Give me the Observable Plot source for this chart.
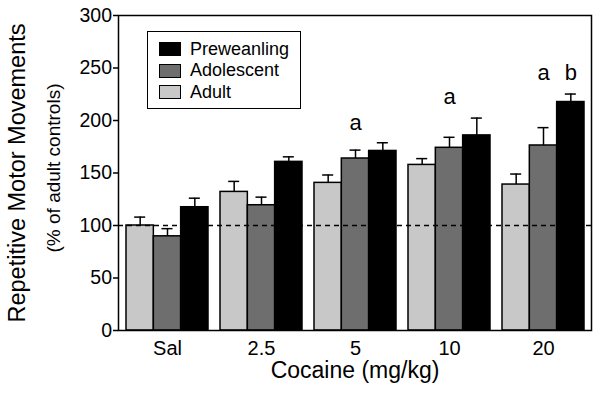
<!DOCTYPE html>
<html>
<head>
<meta charset="utf-8">
<script src="https://cdn.jsdelivr.net/npm/d3@7"></script>
<script src="https://cdn.jsdelivr.net/npm/@observablehq/plot@0.6"></script>
<style>
  html, body { margin: 0; padding: 0; background: #fff; }
  #wrap { position: relative; width: 600px; height: 402px; font-family: "Liberation Sans", Arial, sans-serif; }
  #legend { position: absolute; left: 147px; top: 31px; width: 152px; height: 76px; border: 1.5px solid #000; background: #fff; box-sizing: content-box; }
  .row { position: absolute; left: 11px; height: 16px; display: flex; align-items: center; font-size: 18px; color: #000; white-space: nowrap; }
  .sw { width: 20px; height: 12px; border: 1.5px solid #000; margin-right: 9px; }
</style>
</head>
<body>
<div id="wrap"></div>
<script>
const doses = ["Sal", "2.5", "5", "10", "20"];
const ages = ["Adult", "Adolescent", "Preweanling"];
const colors = ["#c8c8c8", "#6e6e6e", "#000000"];
const adult       = [100, 132, 140.6, 157.7, 139];
const adultErr    = [8, 10, 7.5, 6, 10];
const adolescent  = [89.7, 119.3, 163.8, 174, 176.2];
const adolescentErr = [7.3, 7.7, 8, 10, 17];
const preweanling = [117.4, 160.6, 171, 185.8, 217.6];
const preweanlingErr = [8.6, 4.8, 7.8, 16.5, 7.6];
const letters = [
  {dose: "5", age: "Adolescent", label: "a", y: 190.8},
  {dose: "10", age: "Adolescent", label: "a", y: 215.6},
  {dose: "20", age: "Adolescent", label: "a", y: 238.5},
  {dose: "20", age: "Preweanling", label: "b", y: 238.5}
];

const series = [adult, adolescent, preweanling];
const errs = [adultErr, adolescentErr, preweanlingErr];
const rows = [];
ages.forEach((a, k) => doses.forEach((d, i) => rows.push({dose: d, age: a, k, value: series[k][i], top: series[k][i] + errs[k][i]})));

const W = 600, H = 402, mL = 118, mR = 9, mT = 15, mB = 72;
const pIn = 0.13, pOut = 0.075;
const step = (W - mL - mR) / (doses.length - pIn + 2 * pOut);
const bw = step * (1 - pIn);
const third = bw / 3;
const font = "Liberation Sans, Arial, sans-serif";

const marks = [];
ages.forEach((a, k) => {
  const data = rows.filter(r => r.age === a);
  marks.push(Plot.barY(data, {x: "dose", y: "value", fill: colors[k], stroke: "#000", strokeWidth: 1.5,
    insetLeft: k * third, insetRight: (2 - k) * third}));
  marks.push(Plot.ruleX(data, {x: "dose", y1: "value", y2: "top", dx: (k - 1) * third, stroke: "#000", strokeWidth: 1.5}));
  marks.push(Plot.tickY(data, {x: "dose", y: "top", stroke: "#000", strokeWidth: 1.5,
    insetLeft: k * third + third / 2 - 5.5, insetRight: (2 - k) * third + third / 2 - 5.5}));
  marks.push(Plot.text(letters.filter(l => l.age === a), {x: "dose", y: "y", text: "label", dx: (k - 1) * third,
    fontSize: 22, textAnchor: "middle", lineAnchor: "bottom", fill: "#000"}));
});

const plot = Plot.plot({
  width: W, height: H,
  marginLeft: mL, marginRight: mR, marginTop: mT, marginBottom: mB,
  style: {fontFamily: font, fontSize: "19px", color: "#000", background: "#fff", overflow: "visible"},
  x: {domain: doses, paddingInner: pIn, paddingOuter: pOut, label: null},
  y: {domain: [0, 300], label: null},
  marks: [
    ...marks,
    Plot.ruleY([100], {stroke: "#000", strokeWidth: 1.5, strokeDasharray: "5,4"}),
    Plot.frame({stroke: "#000", strokeWidth: 1.5}),
    Plot.axisY({ticks: [0, 50, 100, 150, 200, 250, 300], tickSize: 5, tickPadding: 1.5, strokeWidth: 1.5, label: null, fontSize: 19.5}),
    Plot.axisX({tickSize: 0, tickPadding: 10, label: null, fontSize: 20}),
    Plot.text(["Repetitive Motor Movements"], {frameAnchor: "left", rotate: -90, dx: -101, fontSize: 23.5, textAnchor: "middle", lineAnchor: "middle"}),
    Plot.text(["(% of adult controls)"], {frameAnchor: "left", rotate: -90, dx: -65, dy: -5, fontSize: 19, textAnchor: "middle", lineAnchor: "middle"}),
    Plot.text(["Cocaine (mg/kg)"], {frameAnchor: "bottom", dy: 40, fontSize: 23, textAnchor: "middle", lineAnchor: "middle"})
  ]
});

const wrap = document.getElementById("wrap");
wrap.appendChild(plot);

const legend = document.createElement("div");
legend.id = "legend";
const legendOrder = [2, 1, 0];
legendOrder.forEach((k, j) => {
  const row = document.createElement("div");
  row.className = "row";
  row.style.top = (9 + j * 21.7) + "px";
  const sw = document.createElement("div");
  sw.className = "sw";
  sw.style.background = colors[k];
  const t = document.createElement("span");
  t.textContent = ages[k];
  row.appendChild(sw);
  row.appendChild(t);
  legend.appendChild(row);
});
wrap.appendChild(legend);
</script>
</body>
</html>
